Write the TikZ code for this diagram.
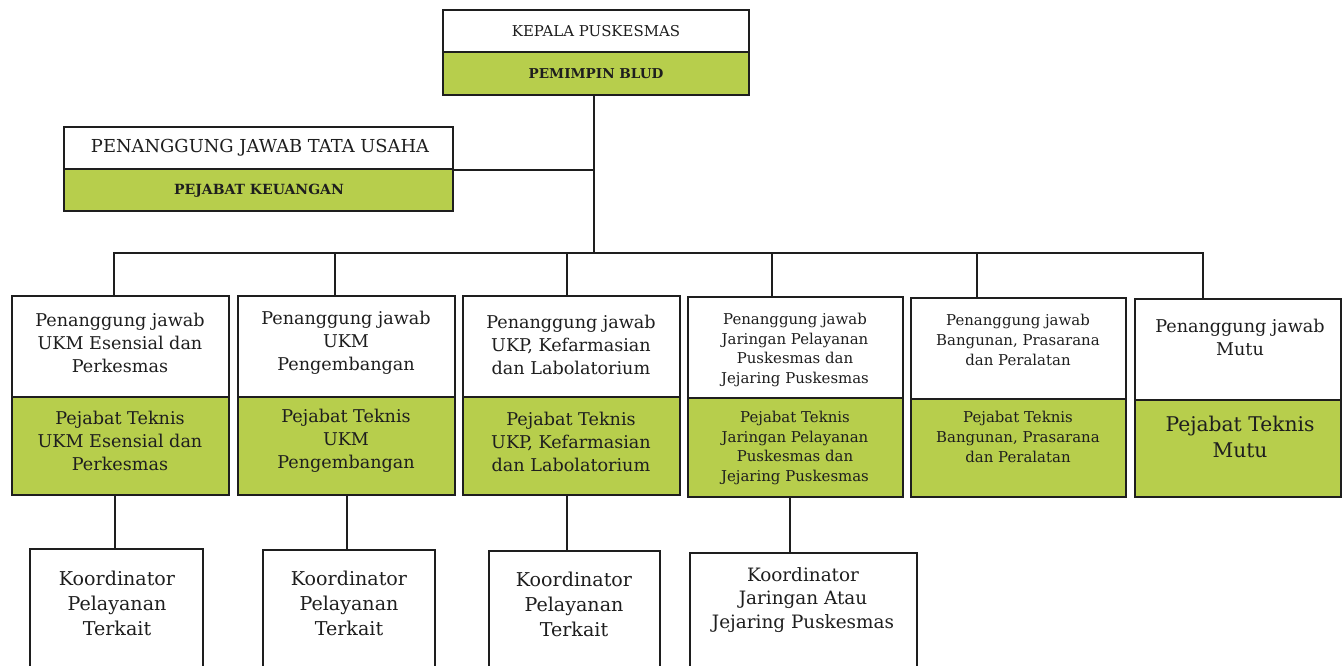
\documentclass[tikz,border=0pt]{standalone}
\usepackage{fontspec}
\setmainfont{DejaVu Serif}
\usetikzlibrary{fit}
\definecolor{blud}{RGB}{183,206,76}
\definecolor{ink}{RGB}{30,30,30}
\tikzset{
  wbox/.style={draw=ink, line width=1.1pt, fill=white, inner sep=0pt},
  gbox/.style={draw=ink, line width=1.1pt, fill=blud, inner sep=0pt},
  txt/.style={align=center, text=ink, inner sep=0pt},
  fA/.style={txt, font=\fontsize{13.2}{17.3}\selectfont},
  fB/.style={txt, font=\fontsize{11.2}{14.8}\selectfont},
  fC/.style={txt, font=\fontsize{15.2}{19.5}\selectfont},
  fK/.style={txt, font=\fontsize{14.3}{18.8}\selectfont},
  fJ/.style={txt, font=\fontsize{13.8}{17.6}\selectfont},
  conn/.style={draw=ink, line width=1.1pt}
}
\begin{document}
\begin{tikzpicture}[x=0.75pt,y=-0.75pt]
\clip (0,0) rectangle (1343,665);
\fill[white] (0,0) rectangle (1343,665);
% top
\node[wbox, fit={(443,10)(749,52)}] (kw) {};
\node[gbox, fit={(443,52)(749,95)}] (kg) {};
\node[txt, font=\fontsize{11.2}{13}\selectfont] (kwt) at (596,31) {KEPALA PUSKESMAS};
\node[txt, font=\fontsize{10.2}{12}\selectfont\bfseries] (kgt) at (596,74) {PEMIMPIN BLUD};
% tata usaha
\node[wbox, fit={(64,127)(453,169)}] (tw) {};
\node[gbox, fit={(64,169)(453,211)}] (tg) {};
\node[txt, font=\fontsize{13.4}{15}\selectfont] (twt) at (260,148) {PENANGGUNG JAWAB TATA USAHA};
\node[txt, font=\fontsize{10.5}{12}\selectfont\bfseries] (tgt) at (259,191) {PEJABAT KEUANGAN};
% six boxes
\node[wbox, fit={(12,296)(229,397)}] (w1) {};
\node[gbox, fit={(12,397)(229,495)}] (g1) {};
\node[wbox, fit={(238,296)(455,397)}] (w2) {};
\node[gbox, fit={(238,397)(455,495)}] (g2) {};
\node[wbox, fit={(463,296)(680,397)}] (w3) {};
\node[gbox, fit={(463,397)(680,495)}] (g3) {};
\node[wbox, fit={(688,297)(903,398)}] (w4) {};
\node[gbox, fit={(688,398)(903,497)}] (g4) {};
\node[wbox, fit={(911,298)(1126,399)}] (w5) {};
\node[gbox, fit={(911,399)(1126,497)}] (g5) {};
\node[wbox, fit={(1135,299)(1341,400)}] (w6) {};
\node[gbox, fit={(1135,400)(1341,497)}] (g6) {};
\node[fA] (w1t) at (120,343) {Penanggung jawab\\UKM Esensial dan\\Perkesmas};
\node[fA] (g1t) at (120,441) {Pejabat Teknis\\UKM Esensial dan\\Perkesmas};
\node[fA] (w2t) at (346,343) {Penanggung jawab\\UKM\\Pengembangan};
\node[fA] (g2t) at (346,441) {Pejabat Teknis\\UKM\\Pengembangan};
\node[fA] (w3t) at (571,345) {Penanggung jawab\\UKP, Kefarmasian\\dan Labolatorium};
\node[fA] (g3t) at (571,442) {Pejabat Teknis\\UKP, Kefarmasian\\dan Labolatorium};
\node[fB] (w4t) at (795,350) {Penanggung jawab\\Jaringan Pelayanan\\Puskesmas dan\\Jejaring Puskesmas};
\node[fB] (g4t) at (795,448) {Pejabat Teknis\\Jaringan Pelayanan\\Puskesmas dan\\Jejaring Puskesmas};
\node[fB] (w5t) at (1018,340) {Penanggung jawab\\Bangunan, Prasarana\\dan Peralatan};
\node[fB] (g5t) at (1018,437) {Pejabat Teknis\\Bangunan, Prasarana\\dan Peralatan};
\node[fA] (w6t) at (1240,337) {Penanggung jawab\\Mutu};
\node[fC] (g6t) at (1240,437) {Pejabat Teknis\\Mutu};
% lower boxes
\node[wbox, fit={(30,549)(203,700)}] (k1) {};
\node[wbox, fit={(263,550)(435,700)}] (k2) {};
\node[wbox, fit={(489,551)(660,700)}] (k3) {};
\node[wbox, fit={(690,553)(917,700)}] (k4) {};
\node[fK] (k1t) at (117,603) {Koordinator\\Pelayanan\\Terkait};
\node[fK] (k2t) at (349,603) {Koordinator\\Pelayanan\\Terkait};
\node[fK] (k3t) at (574,604) {Koordinator\\Pelayanan\\Terkait};
\node[fJ] (k4t) at (803,600) {Koordinator\\Jaringan Atau\\Jejaring Puskesmas};
% connectors
\coordinate (bus) at (594,253);
\coordinate (tu) at (453,170);
\coordinate (d1) at (114,296);
\coordinate (d2) at (335,296);
\coordinate (d3) at (567,296);
\coordinate (d4) at (772,297);
\coordinate (d5) at (977,298);
\coordinate (d6) at (1203,299);
\coordinate (e1) at (115,549);
\coordinate (e2) at (347,550);
\coordinate (e3) at (567,551);
\coordinate (e4) at (790,553);
\draw[conn] (kg.south -| bus) -- (bus);
\draw[conn] (tu) -- (tu -| bus);
\foreach \i in {1,...,6} {\draw[conn] (bus) -| (d\i);}
\foreach \i in {1,...,4} {\draw[conn] (e\i) -- (e\i |- g\i.south);}
\end{tikzpicture}
\end{document}
